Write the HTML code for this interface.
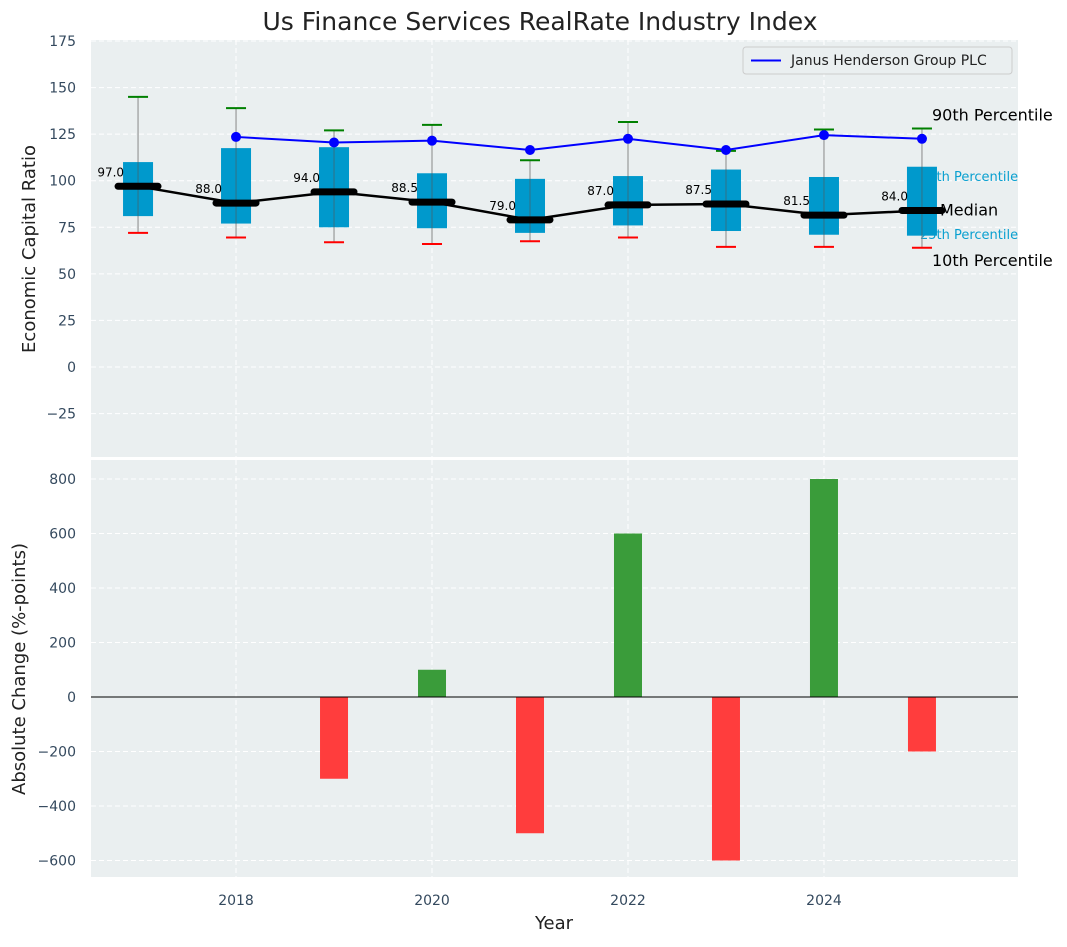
<!DOCTYPE html>
<html><head><meta charset="utf-8"><style>
body{margin:0;background:#fff;font-family:"Liberation Sans","DejaVu Sans",sans-serif}
svg text{font-family:"DejaVu Sans","Liberation Sans",sans-serif}
</style></head><body>
<svg id="c" width="1067" height="942" xmlns="http://www.w3.org/2000/svg"></svg>
<script>
const years=[2017,2018,2019,2020,2021,2022,2023,2024,2025];
const p10=[72,69.5,67,66,67.5,69.5,64.5,64.5,64];
const p25=[81,77,75,74.5,72,76,73,71,70.5];
const medians=[97,88,94,88.5,79,87,87.5,81.5,84];
const p75=[110,117.5,118,104,101,102.5,106,102,107.5];
const p90=[145,139,127,130,111,131.5,116,127.5,128];
const peerYears=[2018,2019,2020,2021,2022,2023,2024,2025];
const peerVals=[123.5,120.5,121.5,116.5,122.5,116.5,124.5,122.5];
const changeYears=[2019,2020,2021,2022,2023,2024,2025];
const changes=[-300,100,-500,600,-600,800,-200];
const topTicks=[-25,0,25,50,75,100,125,150,175];
const botTicks=[-600,-400,-200,0,200,400,600,800];
const xTicks=[2018,2020,2022,2024];

const NS="http://www.w3.org/2000/svg";
const svg=document.getElementById('c');
function el(t,a,txt,parent){const e=document.createElementNS(NS,t);for(const k in a)e.setAttribute(k,a[k]);if(txt!==undefined)e.textContent=txt;(parent||svg).appendChild(e);return e;}
const L=91,R=1018;
const X=v=>L+(v-2016.52)*(R-L)/(2025.98-2016.52);
const T0=40,T1=457;
const Yt=v=>367-(v)*(367-41)/175;
const B0=460,B1=877;
const Yb=v=>697-v*(697-479)/800;

let t=el('text',{x:540,y:30,'font-size':25,'text-anchor':'middle',fill:'#222'},'Us Finance Services RealRate Industry Index');

let r=el('rect',{x:L,y:T0,width:R-L,height:T1-T0,fill:'#eaeff0'});

r=el('rect',{x:L,y:B0,width:R-L,height:B1-B0,fill:'#eaeff0'});


xTicks.forEach(v=>{
 [[T0,T1],[B0,B1]].forEach(([a,b])=>{const g=el('line',{x1:X(v),x2:X(v),y1:a,y2:b,stroke:'#fff','stroke-dasharray':'5,3','stroke-width':1});
 });
 const tl=el('text',{x:X(v),y:905,'font-size':14,'text-anchor':'middle',fill:'#34495e'},v);
 
});
topTicks.forEach(v=>{
 const g=el('line',{x1:L,x2:R,y1:Yt(v),y2:Yt(v),stroke:'#fff','stroke-dasharray':'5,3'});
 
 const tl=el('text',{x:76,y:Yt(v)+5,'font-size':14,'text-anchor':'end',fill:'#34495e'},v<0?'\u2212'+(-v):v);
 
});
botTicks.forEach(v=>{
 const g=el('line',{x1:L,x2:R,y1:Yb(v),y2:Yb(v),stroke:'#fff','stroke-dasharray':'5,3'});
 
 const tl=el('text',{x:76,y:Yb(v)+5,'font-size':14,'text-anchor':'end',fill:'#34495e'},v<0?'\u2212'+(-v):v);
 
});

const last=years.length-1, ax=X(years[last])+10;
[['90th Percentile',p90[last]+7,16,'#000','90th',0],['75th Percentile',p75[last]-5,13,'#0aa0d0','75th',-12],['Median',medians[last],16,'#000','median',8],['25th Percentile',p25[last]+1,13,'#0aa0d0','25th',-12],['10th Percentile',p10[last]-7,16,'#000','10th',0]].forEach(a=>{
 const tt=el('text',{x:ax+a[5],y:Yt(a[1])+5,'font-size':a[2],fill:a[3]},a[0]);
 
});

years.forEach((y,i)=>{
 const cx=X(y);
 const w=el('line',{x1:cx,x2:cx,y1:Yt(p90[i]),y2:Yt(p10[i]),stroke:'#888','stroke-width':1});
 
 const b=el('rect',{x:cx-15,y:Yt(p75[i]),width:30,height:Yt(p25[i])-Yt(p75[i]),fill:'#0099cc'});
 
 const w2=el('line',{x1:cx,x2:cx,y1:Yt(p75[i]),y2:Yt(p25[i]),stroke:'#555','stroke-width':1,opacity:0.6});
 
 const h=el('line',{x1:cx-10,x2:cx+10,y1:Yt(p90[i]),y2:Yt(p90[i]),stroke:'green','stroke-width':2});
 
 const lo=el('line',{x1:cx-10,x2:cx+10,y1:Yt(p10[i]),y2:Yt(p10[i]),stroke:'red','stroke-width':2});
 
});
let mp=el('polyline',{points:years.map((y,i)=>X(y)+','+Yt(medians[i])).join(' '),fill:'none',stroke:'#000','stroke-width':2.5});

years.forEach((y,i)=>{
 const m=el('line',{x1:X(y)-20,x2:X(y)+20,y1:Yt(medians[i]),y2:Yt(medians[i]),stroke:'#000','stroke-width':7,'stroke-linecap':'round'});
 
 const tl=el('text',{x:X(y)-14,y:Yt(medians[i])-10,'font-size':12,'text-anchor':'end',fill:'#000'},medians[i].toFixed(1));
 
});
let pl=el('polyline',{points:peerYears.map((y,i)=>X(y)+','+Yt(peerVals[i])).join(' '),fill:'none',stroke:'#0000ff','stroke-width':2});

peerYears.forEach((y,i)=>{
 const c=el('circle',{cx:X(y),cy:Yt(peerVals[i]),r:5,fill:'#0000ff'});
 
});
const lg=el('g',{});

el('rect',{x:743,y:47,width:269,height:27,rx:3,fill:'#eaeff0',stroke:'#ccc'},undefined,lg);
el('line',{x1:751,x2:781,y1:60.5,y2:60.5,stroke:'#0000ff','stroke-width':2},undefined,lg);
el('text',{x:791,y:65,'font-size':14,fill:'#222'},'Janus Henderson Group PLC',lg);

changeYears.forEach((y,i)=>{
 const v=changes[i];
 const b=el('rect',{x:X(y)-14,y:Math.min(Yb(v),Yb(0)),width:28,height:Math.abs(Yb(v)-Yb(0)),fill:v>=0?'#3a9c3a':'#ff3d3d'});
 
});
let zl=el('line',{x1:L,x2:R,y1:Yb(0),y2:Yb(0),stroke:'#000','stroke-width':1});


t=el('text',{x:0,y:0,'font-size':18,'text-anchor':'middle',fill:'#222',transform:'translate(35,249) rotate(-90)'},'Economic Capital Ratio');

t=el('text',{x:0,y:0,'font-size':18,'text-anchor':'middle',fill:'#222',transform:'translate(25,669) rotate(-90)'},'Absolute Change (%-points)');

t=el('text',{x:554,y:929,'font-size':18,'text-anchor':'middle',fill:'#222'},'Year');

</script>
</body></html>
